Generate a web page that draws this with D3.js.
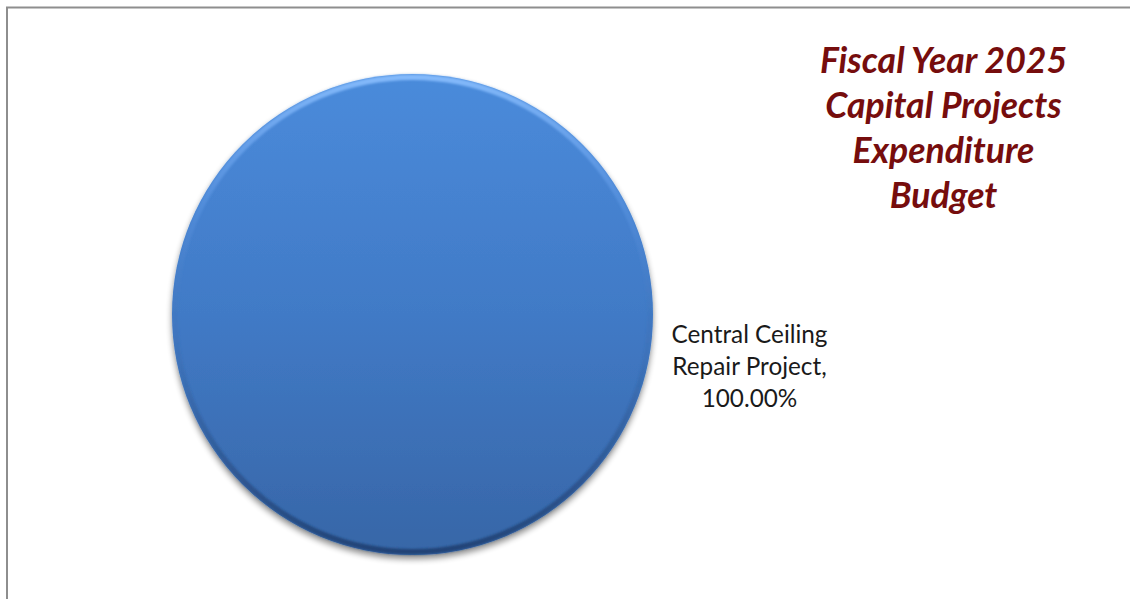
<!DOCTYPE html>
<html>
<head>
<meta charset="utf-8">
<script src="https://cdn.jsdelivr.net/npm/d3@7"></script>
<style>
  html, body { margin: 0; padding: 0; background: #fff; }
  svg { display: block; }
</style>
</head>
<body>
<svg id="chart" width="1130" height="599"></svg>
<script>
// Budget share per capital project
const categories = ["Central Ceiling Repair Project"];
const shares = [100.00];
const titleLines = ["Fiscal Year 2025", "Capital Projects", "Expenditure", "Budget"];

const W = 1130, H = 599;
const svg = d3.select("#chart");
const defs = svg.append("defs");

// Chart area frame
svg.append("rect")
  .attr("x", 7).attr("y", 7.5)
  .attr("width", W + 20).attr("height", H + 20)
  .attr("fill", "#fff")
  .attr("stroke", "#8e8e8e")
  .attr("stroke-width", 2);

// Pie geometry
const cx = 412.5, cy = 314.5, r = 240.5;

// Fill gradient (lighter top, darker bottom)
const fillGrad = defs.append("linearGradient")
  .attr("id", "sliceFill").attr("x1", 0).attr("y1", 0).attr("x2", 0).attr("y2", 1);
fillGrad.append("stop").attr("offset", "0%").attr("stop-color", "#4a8bdb");
fillGrad.append("stop").attr("offset", "50%").attr("stop-color", "#417ac6");
fillGrad.append("stop").attr("offset", "100%").attr("stop-color", "#3766a7");

// Bevel rim: light along the top, dark along the bottom
const rimGrad = defs.append("linearGradient")
  .attr("id", "rim").attr("x1", 0).attr("y1", 0).attr("x2", 0).attr("y2", 1);
rimGrad.append("stop").attr("offset", "0%").attr("stop-color", "#8cc0ff").attr("stop-opacity", 0.9);
rimGrad.append("stop").attr("offset", "30%").attr("stop-color", "#6aa2ee").attr("stop-opacity", 0.25);
rimGrad.append("stop").attr("offset", "60%").attr("stop-color", "#2d5690").attr("stop-opacity", 0.15);
rimGrad.append("stop").attr("offset", "100%").attr("stop-color", "#1f3f70").attr("stop-opacity", 0.9);

// Soft drop shadow beneath the pie
const shadow = defs.append("filter").attr("id", "shadow")
  .attr("x", "-10%").attr("y", "-10%").attr("width", "120%").attr("height", "125%");
shadow.append("feGaussianBlur").attr("in", "SourceAlpha").attr("stdDeviation", 3);
shadow.append("feOffset").attr("dx", 0).attr("dy", 4).attr("result", "off");
shadow.append("feComponentTransfer").append("feFuncA").attr("type", "linear").attr("slope", 0.45);
const merge = shadow.append("feMerge");
merge.append("feMergeNode");
merge.append("feMergeNode").attr("in", "SourceGraphic");

const blurRim = defs.append("filter").attr("id", "rimBlur");
blurRim.append("feGaussianBlur").attr("stdDeviation", 1);

const pie = d3.pie().sort(null).value(d => d.value);
const data = categories.map((c, i) => ({ name: c, value: shares[i] }));
const arcs = pie(data);

const arc = d3.arc().innerRadius(0).outerRadius(r);
const rimArc = d3.arc().innerRadius(r - 6).outerRadius(r - 0.5);

const g = svg.append("g").attr("transform", `translate(${cx},${cy})`);

g.selectAll("path.slice")
  .data(arcs)
  .join("path")
  .attr("class", "slice")
  .attr("d", arc)
  .attr("fill", "url(#sliceFill)")
  .attr("filter", "url(#shadow)");

g.selectAll("path.rim")
  .data(arcs)
  .join("path")
  .attr("class", "rim")
  .attr("d", rimArc)
  .attr("fill", "url(#rim)")
  .attr("filter", "url(#rimBlur)");

// Data label to the right of the pie
const fmt = d3.format(".2f");
const labelFont = "Lato, 'Liberation Sans', sans-serif";
arcs.forEach(a => {
  const words = a.data.name.split(" ");
  const lines = [words.slice(0, 2).join(" "), words.slice(2).join(" ") + ",", fmt(a.data.value) + "%"];
  const t = svg.append("text")
    .attr("text-anchor", "middle")
    .attr("font-family", labelFont)
    .attr("font-size", 24.3)
    .attr("fill", "#1a1a1a");
  const baselines = [343, 375, 407];
  lines.forEach((ln, i) => {
    t.append("tspan").attr("x", 749.5).attr("y", baselines[i]).text(ln);
  });
});

// Title, top right
const title = svg.append("text")
  .attr("text-anchor", "middle")
  .attr("font-family", labelFont)
  .attr("font-weight", "bold")
  .attr("font-style", "italic")
  .attr("font-size", 35.6)
  .attr("fill", "#760d0d");
const titleBase = [73, 118, 163, 208];
titleLines.forEach((ln, i) => {
  title.append("tspan").attr("x", 943.5).attr("y", titleBase[i]).text(ln);
});
</script>
</body>
</html>
